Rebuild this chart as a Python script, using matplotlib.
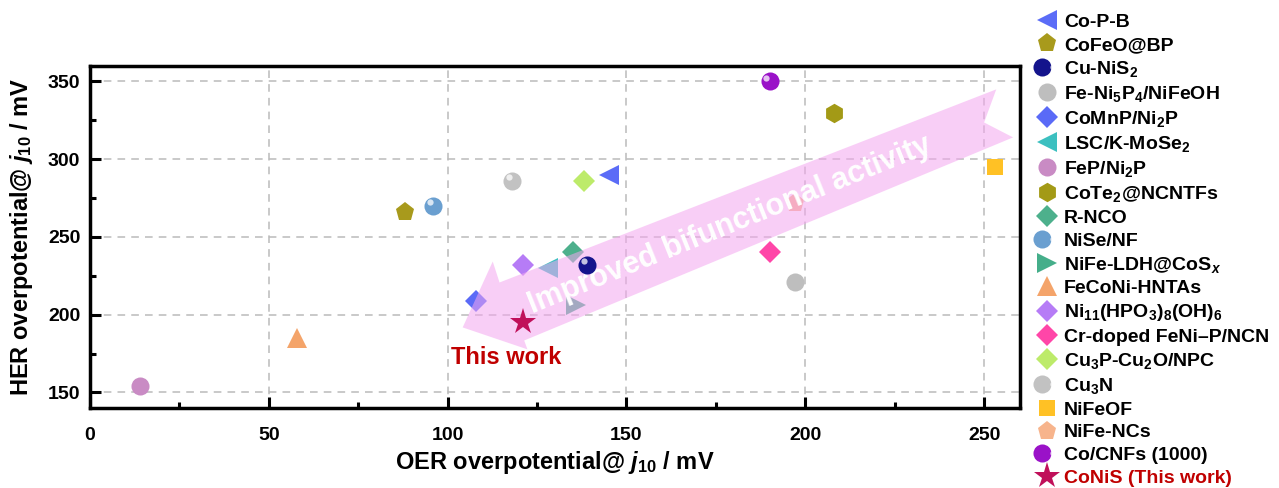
import matplotlib
matplotlib.use('Agg')
import matplotlib.pyplot as plt
from matplotlib.patches import Polygon
from matplotlib.lines import Line2D
from matplotlib.legend_handler import HandlerTuple
from matplotlib.transforms import ScaledTranslation

plt.rcParams['font.family'] = ['Liberation Sans', 'DejaVu Sans']
plt.rcParams['font.weight'] = 'bold'
plt.rcParams['axes.labelweight'] = 'bold'
plt.rcParams['mathtext.fontset'] = 'custom'
plt.rcParams['mathtext.rm'] = 'Liberation Sans:bold'
plt.rcParams['mathtext.it'] = 'Liberation Sans:italic:bold'
plt.rcParams['mathtext.bf'] = 'Liberation Sans:bold'

# catalysts: name, OER overpotential, HER overpotential
names = ['Co-P-B', 'CoFeO@BP', 'Cu-NiS$_2$', 'Fe-Ni$_5$P$_4$/NiFeOH',
         'CoMnP/Ni$_2$P', 'LSC/K-MoSe$_2$', 'FeP/Ni$_2$P', 'CoTe$_2$@NCNTFs',
         'R-NCO', 'NiSe/NF', 'NiFe-LDH@CoS$_x$', 'FeCoNi-HNTAs',
         'Ni$_{11}$(HPO$_3$)$_8$(OH)$_6$', 'Cr-doped FeNi\u2013P/NCN',
         'Cu$_3$P-Cu$_2$O/NPC', 'Cu$_3$N', 'NiFeOF', 'NiFe-NCs',
         'Co/CNFs (1000)', 'CoNiS (This work)']
oer = [145, 88, 139, 197, 108, 128, 14, 208, 135, 96, 136, 58, 121, 190,
       138, 118, 253, 197, 190, 121]
her = [290, 266, 232, 221, 209, 230, 154, 330, 240, 270, 206, 185, 232, 240,
       286, 286, 295, 272, 350, 195]

markers = ['<', 'p', 'o', 'o', 'D', '<', 'o', 'h', 'D', 'o', '>', '^', 'D',
           'D', 'D', 'o', 's', 'p', 'o', '*']
colors = ['#5B6CF7', '#A89A1C', '#14148C', '#BEBEBE', '#5A6AF7', '#3CC0C0',
          '#C98BC4', '#A39A16', '#4DB08C', '#6A9FD0', '#45AE8A', '#F4A46A',
          '#B67CF6', '#FF46A8', '#BDEB6A', '#C2C2C2', '#FFC125', '#F7B48C',
          '#9A12C8', '#C0105A']
spheres = [2, 9, 15, 18]
on_top = [2, 19]  # drawn above the pink arrow
sizes = [14, 14, 13, 13, 11, 14, 13, 14, 11, 13, 14, 14, 11, 11, 11, 13, 12,
         14, 13, 20]

fig = plt.figure(figsize=(12.79, 4.88), dpi=100)
ax = fig.add_axes([0.0704, 0.164, 0.727, 0.701])

ax.set_xlim(0, 260)
ax.set_ylim(140, 360)
ax.set_xticks([0, 50, 100, 150, 200, 250])
ax.set_yticks([150, 200, 250, 300, 350])
ax.set_xticks([25, 75, 125, 175, 225], minor=True)
ax.set_yticks([175, 225, 275, 325], minor=True)
ax.grid(True, which='major', linestyle=(0, (5, 4)), color='#BBBBBB', lw=1.1)
ax.tick_params(which='both', direction='in', top=False, right=False,
               labelsize=14, width=2.2)
ax.tick_params(which='major', length=8, pad=7)
ax.tick_params(axis='x', which='major', pad=14)
ax.tick_params(which='minor', length=4)
for s in ax.spines.values():
    s.set_linewidth(2.5)
ax.set_axisbelow(True)

ax.set_xlabel('OER overpotential@ $j_{10}$ / mV', fontsize=17, labelpad=3)
ax.set_ylabel('HER overpotential@ $j_{10}$ / mV', fontsize=17, labelpad=9)

hl_shift = ScaledTranslation(-2.5 / 72, 2.5 / 72, fig.dpi_scale_trans)
handles = []
for i in range(len(names)):
    z = 6 if i in on_top else 2
    h, = ax.plot(oer[i], her[i], marker=markers[i], ms=sizes[i], color=colors[i],
                 mec=colors[i], mew=0, ls='none', zorder=z)
    if i in spheres:
        ax.plot(oer[i], her[i], marker='o', ms=4.5, color='white', alpha=0.75,
                mew=0, ls='none', zorder=z + 0.1,
                transform=ax.transData + hl_shift)
        hl = Line2D([], [], marker='o', ms=4.5, color='white', alpha=0.75,
                    mew=0, ls='none')
        handles.append((h, hl))
    else:
        handles.append(h)

# big translucent arrow drawn over the points
arrow_x = [104.2, 112.6, 114.5, 253.4, 250.0, 258.1, 121.4, 122.3]
arrow_y = [191.8, 234.2, 220.7, 344.9, 323.6, 314.0, 183.4, 177.7]
ax.add_patch(Polygon(list(zip(arrow_x, arrow_y)), closed=True,
                     facecolor='#F4A6F0', edgecolor='none', alpha=0.55,
                     zorder=4))
ax.text(179, 257.5, 'Improved bifunctional activity', color='white',
        fontsize=22, fontweight='bold', rotation=22, ha='center',
        va='center', rotation_mode='anchor', zorder=5)
ax.text(101, 172.5, 'This work', color='#C00000', fontsize=17,
        fontweight='bold', ha='left', va='center', zorder=6)

leg = fig.legend(handles, names, loc='upper left',
                 bbox_to_anchor=(1023 / 1279, 1.0), frameon=False,
                 fontsize=14, handlelength=1.1, handletextpad=0.3,
                 labelspacing=0.26, borderaxespad=0.15, borderpad=0.55,
                 handler_map={tuple: HandlerTuple(ndivide=None, pad=0)})
for t in leg.get_texts():
    t.set_fontweight('bold')
leg.get_texts()[-1].set_color('#C00000')

fig.savefig('out.png', dpi=100)
